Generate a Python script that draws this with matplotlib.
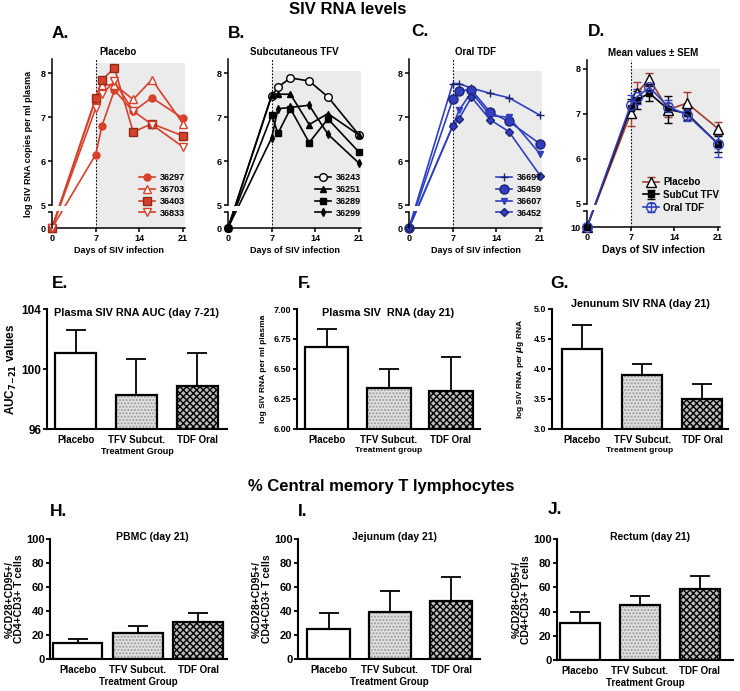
import numpy as np
import matplotlib
matplotlib.use("Agg")
import matplotlib.pyplot as plt

plt.rcParams['font.family'] = ['Liberation Sans', 'DejaVu Sans']
plt.rcParams['font.weight'] = 'bold'
plt.rcParams['axes.labelweight'] = 'bold'
plt.rcParams['hatch.linewidth'] = 1.0
plt.rcParams['mathtext.default'] = 'bf'

# ---- data: SIV RNA (log copies / ml plasma), day 0 = undetectable (0) ----
days = [0, 7, 8, 10, 13, 16, 21]

placebo_ids = ['36297', '36703', '36403', '36833']
rna_36297 = [0, 6.15, 6.80, 7.61, 7.13, 7.44, 6.97]
rna_36703 = [0, 7.40, 7.72, 7.74, 7.40, 7.85, 6.85]
rna_36403 = [0, 7.44, 7.84, 8.12, 6.66, 6.85, 6.57]
rna_36833 = [0, 7.20, 7.52, 7.81, 7.14, 6.83, 6.32]

subcut_ids = ['36243', '36251', '36289', '36299']
rna_36243 = [0, 7.48, 7.68, 7.89, 7.82, 7.46, 6.59]
rna_36251 = [0, 7.50, 7.52, 7.52, 6.83, 7.08, 6.59]
rna_36289 = [0, 7.04, 6.63, 7.19, 6.42, 6.96, 6.20]
rna_36299 = [0, 6.53, 7.19, 7.22, 7.27, 6.61, 5.95]

oral_ids = ['36697', '36459', '36607', '36452']
rna_36697 = [0, 7.76, 7.76, 7.66, 7.54, 7.44, 7.04]
rna_36459 = [0, 7.40, 7.60, 7.62, 7.11, 6.90, 6.39]
rna_36607 = [0, 6.80, 7.15, 7.57, 7.03, 7.00, 6.16]
rna_36452 = [0, 6.80, 6.96, 7.45, 6.94, 6.67, 5.67]

mean_names = ['Placebo', 'SubCut TFV', 'Oral TDF']
mean_placebo = [0, 7.01, 7.47, 7.78, 7.09, 7.24, 6.67]
sem_placebo = [0, 0.28, 0.23, 0.13, 0.15, 0.25, 0.15]
mean_subcut = [0, 7.13, 7.31, 7.46, 7.10, 7.01, 6.33]
sem_subcut = [0, 0.20, 0.20, 0.17, 0.30, 0.15, 0.18]
mean_oral = [0, 7.20, 7.38, 7.59, 7.16, 6.98, 6.33]
sem_oral = [0, 0.22, 0.17, 0.08, 0.15, 0.13, 0.30]

# ---- bar panels ----
groups = ['Placebo', 'TFV Subcut.', 'TDF Oral']
auc_mean = [101.1, 98.27, 98.85]
auc_err = [1.5, 2.4, 2.25]
plasma21_mean = [6.68, 6.34, 6.32]
plasma21_err = [0.15, 0.16, 0.28]
jejunum_rna_mean = [4.34, 3.90, 3.50]
jejunum_rna_err = [0.40, 0.18, 0.25]
pbmc_cm = [13.0, 22.0, 30.6]
pbmc_cm_err = [3.4, 5.8, 7.5]
jejunum_cm = [25.0, 39.0, 48.3]
jejunum_cm_err = [13.0, 18.0, 20.3]
rectum_cm = [30.3, 45.6, 58.4]
rectum_cm_err = [9.7, 7.0, 11.0]

W, H = 740, 691
fig = plt.figure(figsize=(W / 100, H / 100), dpi=100)


def rect(x0, x1, ytop, ybot):
    return [x0 / W, 1 - ybot / H, (x1 - x0) / W, (ybot - ytop) / H]


Y0 = 4.48     # where the "0" of the broken axis sits
Y_BRK = 4.84  # top of the lower axis piece


def ypos(vals):
    v = np.asarray(vals, dtype=float)
    return np.where(v > 0, v, Y0)


def line_panel(ax, title, ylim, shade_top, zero_label='0'):
    ax.set_xlim(0, 21.3)
    ax.set_ylim(*ylim)
    ax.fill_between([7, 21.3], ylim[0], shade_top, color='#ebebeb', lw=0, zorder=0)
    ax.axvline(7, color='black', ls=(0, (1.5, 1.5)), lw=0.8, zorder=1)
    ax.fill_between([0.05, 6.5], Y_BRK + 0.02, 4.975, color='white', lw=0, zorder=5)
    for s in ['top', 'right']:
        ax.spines[s].set_visible(False)
    ax.spines['left'].set_bounds(5, ylim[1])
    ax.spines['left'].set_linewidth(1.1)
    ax.spines['bottom'].set_linewidth(1.1)
    ax.plot([0, 0], [Y0, Y_BRK], color='black', lw=1.1, transform=ax.get_yaxis_transform(),
            clip_on=False, zorder=6)
    ax.set_yticks([Y0, Y_BRK, 5, 6, 7, 8], [zero_label, '', '5', '6', '7', '8'])
    ax.set_xticks([0, 7, 14, 21])
    ax.tick_params(labelsize=6.5, width=1.1, length=3, pad=1.5)
    ax.set_title(title, fontsize=7, fontweight='bold', pad=3)
    ax.set_xlabel('Days of SIV infection', fontsize=6.5, labelpad=2)


red = '#d7402a'
dkred = '#8e2c1c'
blue = '#2f3fc0'
navy = '#1c2470'

# A. placebo
axA = fig.add_axes(rect(52, 185, 59, 228))
line_panel(axA, 'Placebo', (Y0, 8.32), 8.24)
styleA = [dict(marker='o', ms=5, mfc=red, mec=red),
          dict(marker='^', ms=5.5, mfc='white', mec=red),
          dict(marker='s', ms=5.5, mfc=red, mec=dkred),
          dict(marker='v', ms=5.5, mfc='white', mec=red)]
for vals, lab, st in zip([rna_36297, rna_36703, rna_36403, rna_36833], placebo_ids, styleA):
    axA.plot(days, ypos(vals), color=red, lw=1.2, label=lab, clip_on=False, zorder=3, **st)
axA.set_ylabel('log SIV RNA copies per ml plasma', fontsize=6.5)
axA.yaxis.set_label_coords(-0.14, 0.5)

# B. subcutaneous TFV
axB = fig.add_axes(rect(228, 361, 59, 228))
line_panel(axB, 'Subcutaneous TFV', (Y0, 8.32), 8.05)
styleB = [dict(marker='o', ms=5.5, mfc='white', mec='black'),
          dict(marker='^', ms=4, mfc='black', mec='black'),
          dict(marker='s', ms=5, mfc='black', mec='black'),
          dict(marker='d', ms=4, mfc='black', mec='black')]
for vals, lab, st in zip([rna_36243, rna_36251, rna_36289, rna_36299], subcut_ids, styleB):
    axB.plot(days, ypos(vals), color='black', lw=1.2, label=lab, clip_on=False, zorder=3, **st)

# C. oral TDF
axC = fig.add_axes(rect(409, 542, 59, 228))
line_panel(axC, 'Oral TDF', (Y0, 8.32), 8.05)
styleC = [dict(marker='+', ms=6, mew=1.0, mec=navy),
          dict(marker='o', ms=6.5, mfc=blue, mec=navy),
          dict(marker='v', ms=5, mfc=blue, mec=blue),
          dict(marker='D', ms=4, mfc=blue, mec=navy)]
for vals, lab, st in zip([rna_36697, rna_36459, rna_36607, rna_36452], oral_ids, styleC):
    axC.plot(days, ypos(vals), color=blue, lw=1.2, label=lab, clip_on=False, zorder=3, **st)

# D. means
axD = fig.add_axes(rect(587, 720, 60, 227))
line_panel(axD, 'Mean values \u00b1 SEM', (4.49, 8.2), 8.0, zero_label='10')
axD.set_xlabel('Days of SIV infection', fontsize=7.5, labelpad=2)
styleD = [dict(color='#a33b2b', marker='^', ms=6.5, mfc='white', mec='black', ecolor='#a33b2b'),
          dict(color='black', marker='s', ms=4, mfc='black', mec='black', ecolor='black'),
          dict(color=blue, marker='o', ms=7, mfc='none', mec=blue, ecolor=blue)]
for vals, err, lab, st in zip([mean_placebo, mean_subcut, mean_oral],
                              [sem_placebo, sem_subcut, sem_oral], mean_names, styleD):
    axD.errorbar(days, ypos(vals), yerr=err, lw=1.2, elinewidth=1.0, capsize=3,
                 label=lab, clip_on=False, zorder=3, **st)

for ax in [axA, axB, axC]:
    ax.legend(loc='lower right', bbox_to_anchor=(1.04, 0.03), frameon=False, fontsize=6.5,
              handlelength=1.8, handletextpad=0.5, labelspacing=0.3, borderaxespad=0.2)
axD.legend(loc='lower right', bbox_to_anchor=(1.04, 0.05), frameon=False, fontsize=7,
           handlelength=1.6, handletextpad=0.5, labelspacing=0.3, borderaxespad=0.2)


def bar_panel(ax, vals, errs, ylim, yticks, yticklabels, width, xlim, tick_fs, lab_fs):
    x = np.arange(len(vals))
    ax.bar(x[0], vals[0], width, color='white', edgecolor='black', lw=1.6, zorder=2)
    ax.bar(x[1], vals[1], width, color='#e0e0e0', edgecolor='#9a9a9a', hatch='.....', lw=0, zorder=2)
    ax.bar(x[1], vals[1], width, color='none', edgecolor='black', lw=1.6, zorder=2)
    ax.bar(x[2], vals[2], width, color='#bbbbbb', edgecolor='black', hatch='xxxxx', lw=1.6, zorder=2)
    ax.errorbar(x, vals, yerr=[np.zeros(len(vals)), errs], fmt='none', ecolor='black',
                elinewidth=1.3, capsize=7, capthick=1.3, zorder=1)
    ax.set_xlim(*xlim)
    ax.set_ylim(*ylim)
    ax.set_yticks(yticks, yticklabels)
    ax.set_xticks(x, groups)
    for s in ['top', 'right']:
        ax.spines[s].set_visible(False)
    ax.spines['left'].set_linewidth(1.5)
    ax.spines['bottom'].set_linewidth(1.5)
    ax.tick_params(axis='y', labelsize=tick_fs, width=1.3, length=3, pad=1)
    ax.tick_params(axis='x', labelsize=lab_fs, length=0, pad=4)


# E
axE = fig.add_axes(rect(47, 227, 309, 429))
bar_panel(axE, auc_mean, auc_err, (96, 104), [96, 100, 104], ['96', '100', '104'],
          0.67, (-0.47, 2.49), 8.5, 7)
axE.set_ylabel(r'AUC$_{7\mathbf{-}21}$ values', fontsize=8.5)
axE.yaxis.set_label_coords(-0.155, 0.5)
axE.set_xlabel('Treatment Group', fontsize=6.5, labelpad=2)
axE.text(0.5, 0.965, 'Plasma SIV RNA AUC (day 7-21)', transform=axE.transAxes,
         ha='center', va='center', fontsize=7.8, fontweight='bold')

# F
axF = fig.add_axes(rect(297, 480, 309, 429))
bar_panel(axF, plasma21_mean, plasma21_err, (6, 7), [6, 6.25, 6.5, 6.75, 7],
          ['6.00', '6.25', '6.50', '6.75', '7.00'], 0.7, (-0.48, 2.47), 6.5, 7)
axF.set_ylabel('log SIV RNA per ml plasma', fontsize=6)
axF.yaxis.set_label_coords(-0.165, 0.5)
axF.set_xlabel('Treatment group', fontsize=6, labelpad=2)
axF.text(0.5, 0.965, 'Plasma SIV  RNA (day 21)', transform=axF.transAxes,
         ha='center', va='center', fontsize=7.8, fontweight='bold')

# G
axG = fig.add_axes(rect(552, 728, 309, 429))
bar_panel(axG, jejunum_rna_mean, jejunum_rna_err, (3, 5), [3, 3.5, 4, 4.5, 5],
          ['3.0', '3.5', '4.0', '4.5', '5.0'], 0.67, (-0.5, 2.43), 6.5, 7)
axG.set_ylabel(r'log SIV RNA per $\mathit{\mu}$g RNA', fontsize=6)
axG.yaxis.set_label_coords(-0.145, 0.5)
axG.set_xlabel('Treatment group', fontsize=6, labelpad=2)
axG.set_title('Jenunum SIV RNA (day 21)', fontsize=7.8, fontweight='bold', pad=1)

# H, I, J
cm_label = '%CD28+CD95+/\nCD4+CD3+ T cells'
cm_ticks = [0, 20, 40, 60, 80, 100]
cm_labels = ['0', '20', '40', '60', '80', '100']
axH = fig.add_axes(rect(50, 227, 539, 659))
bar_panel(axH, pbmc_cm, pbmc_cm_err, (0, 100), cm_ticks, cm_labels, 0.82, (-0.46, 2.48), 8, 7)
axI = fig.add_axes(rect(298, 480, 539, 659))
bar_panel(axI, jejunum_cm, jejunum_cm_err, (0, 100), cm_ticks, cm_labels, 0.69, (-0.5, 2.47), 8, 7)
axJ = fig.add_axes(rect(557, 733, 539, 660))
bar_panel(axJ, rectum_cm, rectum_cm_err, (0, 100), cm_ticks, cm_labels, 0.67, (-0.38, 2.55), 8, 7)
for ax, t, tx in [(axH, 'PBMC (day 21)', 0.58), (axI, 'Jejunum (day 21)', 0.53),
                  (axJ, 'Rectum (day 21)', 0.53)]:
    ax.set_ylabel(cm_label, fontsize=7.5, linespacing=1.0)
    ax.yaxis.set_label_coords(-0.145, 0.5)
    ax.set_xlabel('Treatment Group', fontsize=7, labelpad=2)
    ax.text(tx, 1.02, t, transform=ax.transAxes, ha='center', va='center',
            fontsize=7.5, fontweight='bold')

# headings and panel letters
fig.text(348 / W, 1 - 9 / H, 'SIV RNA levels', ha='center', va='center', fontsize=12, fontweight='bold')
fig.text(381 / W, 1 - 487 / H, '% Central memory T lymphocytes', ha='center', va='center',
         fontsize=12, fontweight='bold')
letters = [('A.', 52, 33), ('B.', 228, 33), ('C.', 411, 31), ('D.', 588, 31),
           ('E.', 52, 284), ('F.', 298, 284), ('G.', 550, 284),
           ('H.', 50, 511), ('I.', 298, 511), ('J.', 548, 509)]
for lab, x, y in letters:
    fig.text(x / W, 1 - y / H, lab, ha='left', va='center', fontsize=12.5, fontweight='bold')

fig.savefig('out.png', dpi=100)
